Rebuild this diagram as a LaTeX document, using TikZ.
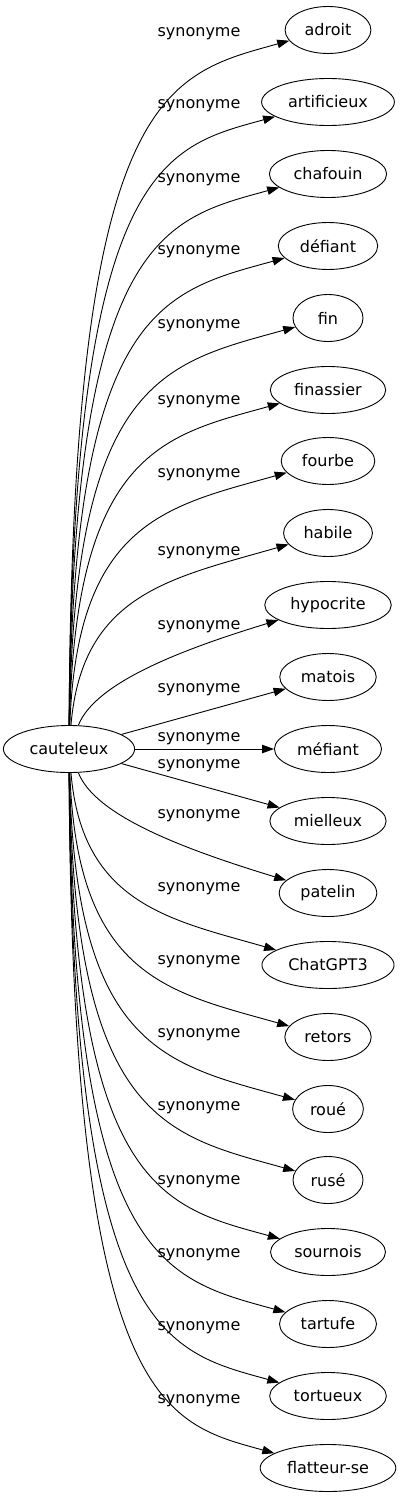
\documentclass[tikz,border=0pt]{standalone}
\usepackage{fontspec}
\setmainfont{DejaVu Sans}
\usetikzlibrary{shapes.geometric,arrows.meta}

\begin{document}
\begin{tikzpicture}[
    x=1pt, y=-1pt,
    mot/.style = {draw, ellipse, line width=0.9pt, font=\fontsize{16}{19}\selectfont,
                  inner xsep=7pt, inner ysep=2pt, minimum height=47pt, minimum width=70pt},
    etiq/.style = {font=\fontsize{16}{19}\selectfont, inner sep=0pt},
    fleche/.style = {line width=0.9pt, -{Triangle[length=12pt, width=8.5pt]}}
]
    \useasboundingbox (0,0) rectangle (403,1499);

    % --- Mot central ---
    \node[mot] (C) at (69,749) {cauteleux};

    % --- Synonymes ---
    \node[mot] (adroit) at (328,30) {adroit};
    \node[mot] (artificieux) at (328,102) {artificieux};
    \node[mot] (chafouin) at (328,174) {chafouin};
    \node[mot] (defiant) at (328,246) {défiant};
    \node[mot] (fin) at (328,318) {fin};
    \node[mot] (finassier) at (328,390) {finassier};
    \node[mot] (fourbe) at (328,461) {fourbe};
    \node[mot] (habile) at (328,533) {habile};
    \node[mot] (hypocrite) at (328,605) {hypocrite};
    \node[mot] (matois) at (328,677) {matois};
    \node[mot] (mefiant) at (328,749) {méfiant};
    \node[mot] (mielleux) at (328,821) {mielleux};
    \node[mot] (patelin) at (328,893) {patelin};
    \node[mot] (chatgpt) at (328,965) {ChatGPT3};
    \node[mot] (retors) at (328,1037) {retors};
    \node[mot] (roue) at (328,1109) {roué};
    \node[mot] (ruse) at (328,1180) {rusé};
    \node[mot] (sournois) at (328,1252) {sournois};
    \node[mot] (tartufe) at (328,1324) {tartufe};
    \node[mot] (tortueux) at (328,1396) {tortueux};
    \node[mot] (flatteur) at (328,1468) {flatteur-se};

    % --- Aretes vers le haut ---
    \draw[fleche] (C) .. controls (72,90) and (165,75) .. (adroit);
    \draw[fleche] (C) .. controls (72,162) and (165,147) .. (artificieux);
    \draw[fleche] (C) .. controls (72,234) and (165,219) .. (chafouin);
    \draw[fleche] (C) .. controls (73,306) and (165,291) .. (defiant);
    \draw[fleche] (C) .. controls (74,378) and (165,363) .. (fin);
    \draw[fleche] (C) .. controls (75,450) and (166,435) .. (finassier);
    \draw[fleche] (C) .. controls (77,521) and (168,506) .. (fourbe);
    \draw[fleche] (C) .. controls (82,593) and (172,578) .. (habile);
    \draw[fleche] (C) .. controls (95,683) and (180,650) .. (hypocrite);
    % --- Aretes droites ---
    \draw[fleche] (C) -- (matois);
    \draw[fleche] (C) -- (mefiant);
    \draw[fleche] (C) -- (mielleux);
    % --- Aretes vers le bas ---
    \draw[fleche] (C) .. controls (95,815) and (180,848) .. (patelin);
    \draw[fleche] (C) .. controls (82,905) and (172,920) .. (chatgpt);
    \draw[fleche] (C) .. controls (77,977) and (168,992) .. (retors);
    \draw[fleche] (C) .. controls (75,1049) and (166,1064) .. (roue);
    \draw[fleche] (C) .. controls (74,1120) and (165,1135) .. (ruse);
    \draw[fleche] (C) .. controls (73,1192) and (165,1207) .. (sournois);
    \draw[fleche] (C) .. controls (72,1264) and (165,1279) .. (tartufe);
    \draw[fleche] (C) .. controls (72,1336) and (165,1351) .. (tortueux);
    \draw[fleche] (C) .. controls (72,1408) and (165,1423) .. (flatteur);

    % --- Etiquettes ---
    \node[etiq] (l1) at (199,34) {synonyme};
    \node[etiq] (l2) at (199,106) {synonyme};
    \node[etiq] (l3) at (199,180) {synonyme};
    \node[etiq] (l4) at (199,252) {synonyme};
    \node[etiq] (l5) at (199,326) {synonyme};
    \node[etiq] (l6) at (199,402) {synonyme};
    \node[etiq] (l7) at (199,475) {synonyme};
    \node[etiq] (l8) at (199,553) {synonyme};
    \node[etiq] (l9) at (199,627) {synonyme};
    \node[etiq] (l10) at (199,690) {synonyme};
    \node[etiq] (l11) at (199,739) {synonyme};
    \node[etiq] (l12) at (199,766) {synonyme};
    \node[etiq] (l13) at (199,816) {synonyme};
    \node[etiq] (l14) at (199,889) {synonyme};
    \node[etiq] (l15) at (199,962) {synonyme};
    \node[etiq] (l16) at (199,1035) {synonyme};
    \node[etiq] (l17) at (199,1108) {synonyme};
    \node[etiq] (l18) at (199,1182) {synonyme};
    \node[etiq] (l19) at (199,1255) {synonyme};
    \node[etiq] (l20) at (199,1328) {synonyme};
    \node[etiq] (l21) at (199,1401) {synonyme};
\end{tikzpicture}
\end{document}
